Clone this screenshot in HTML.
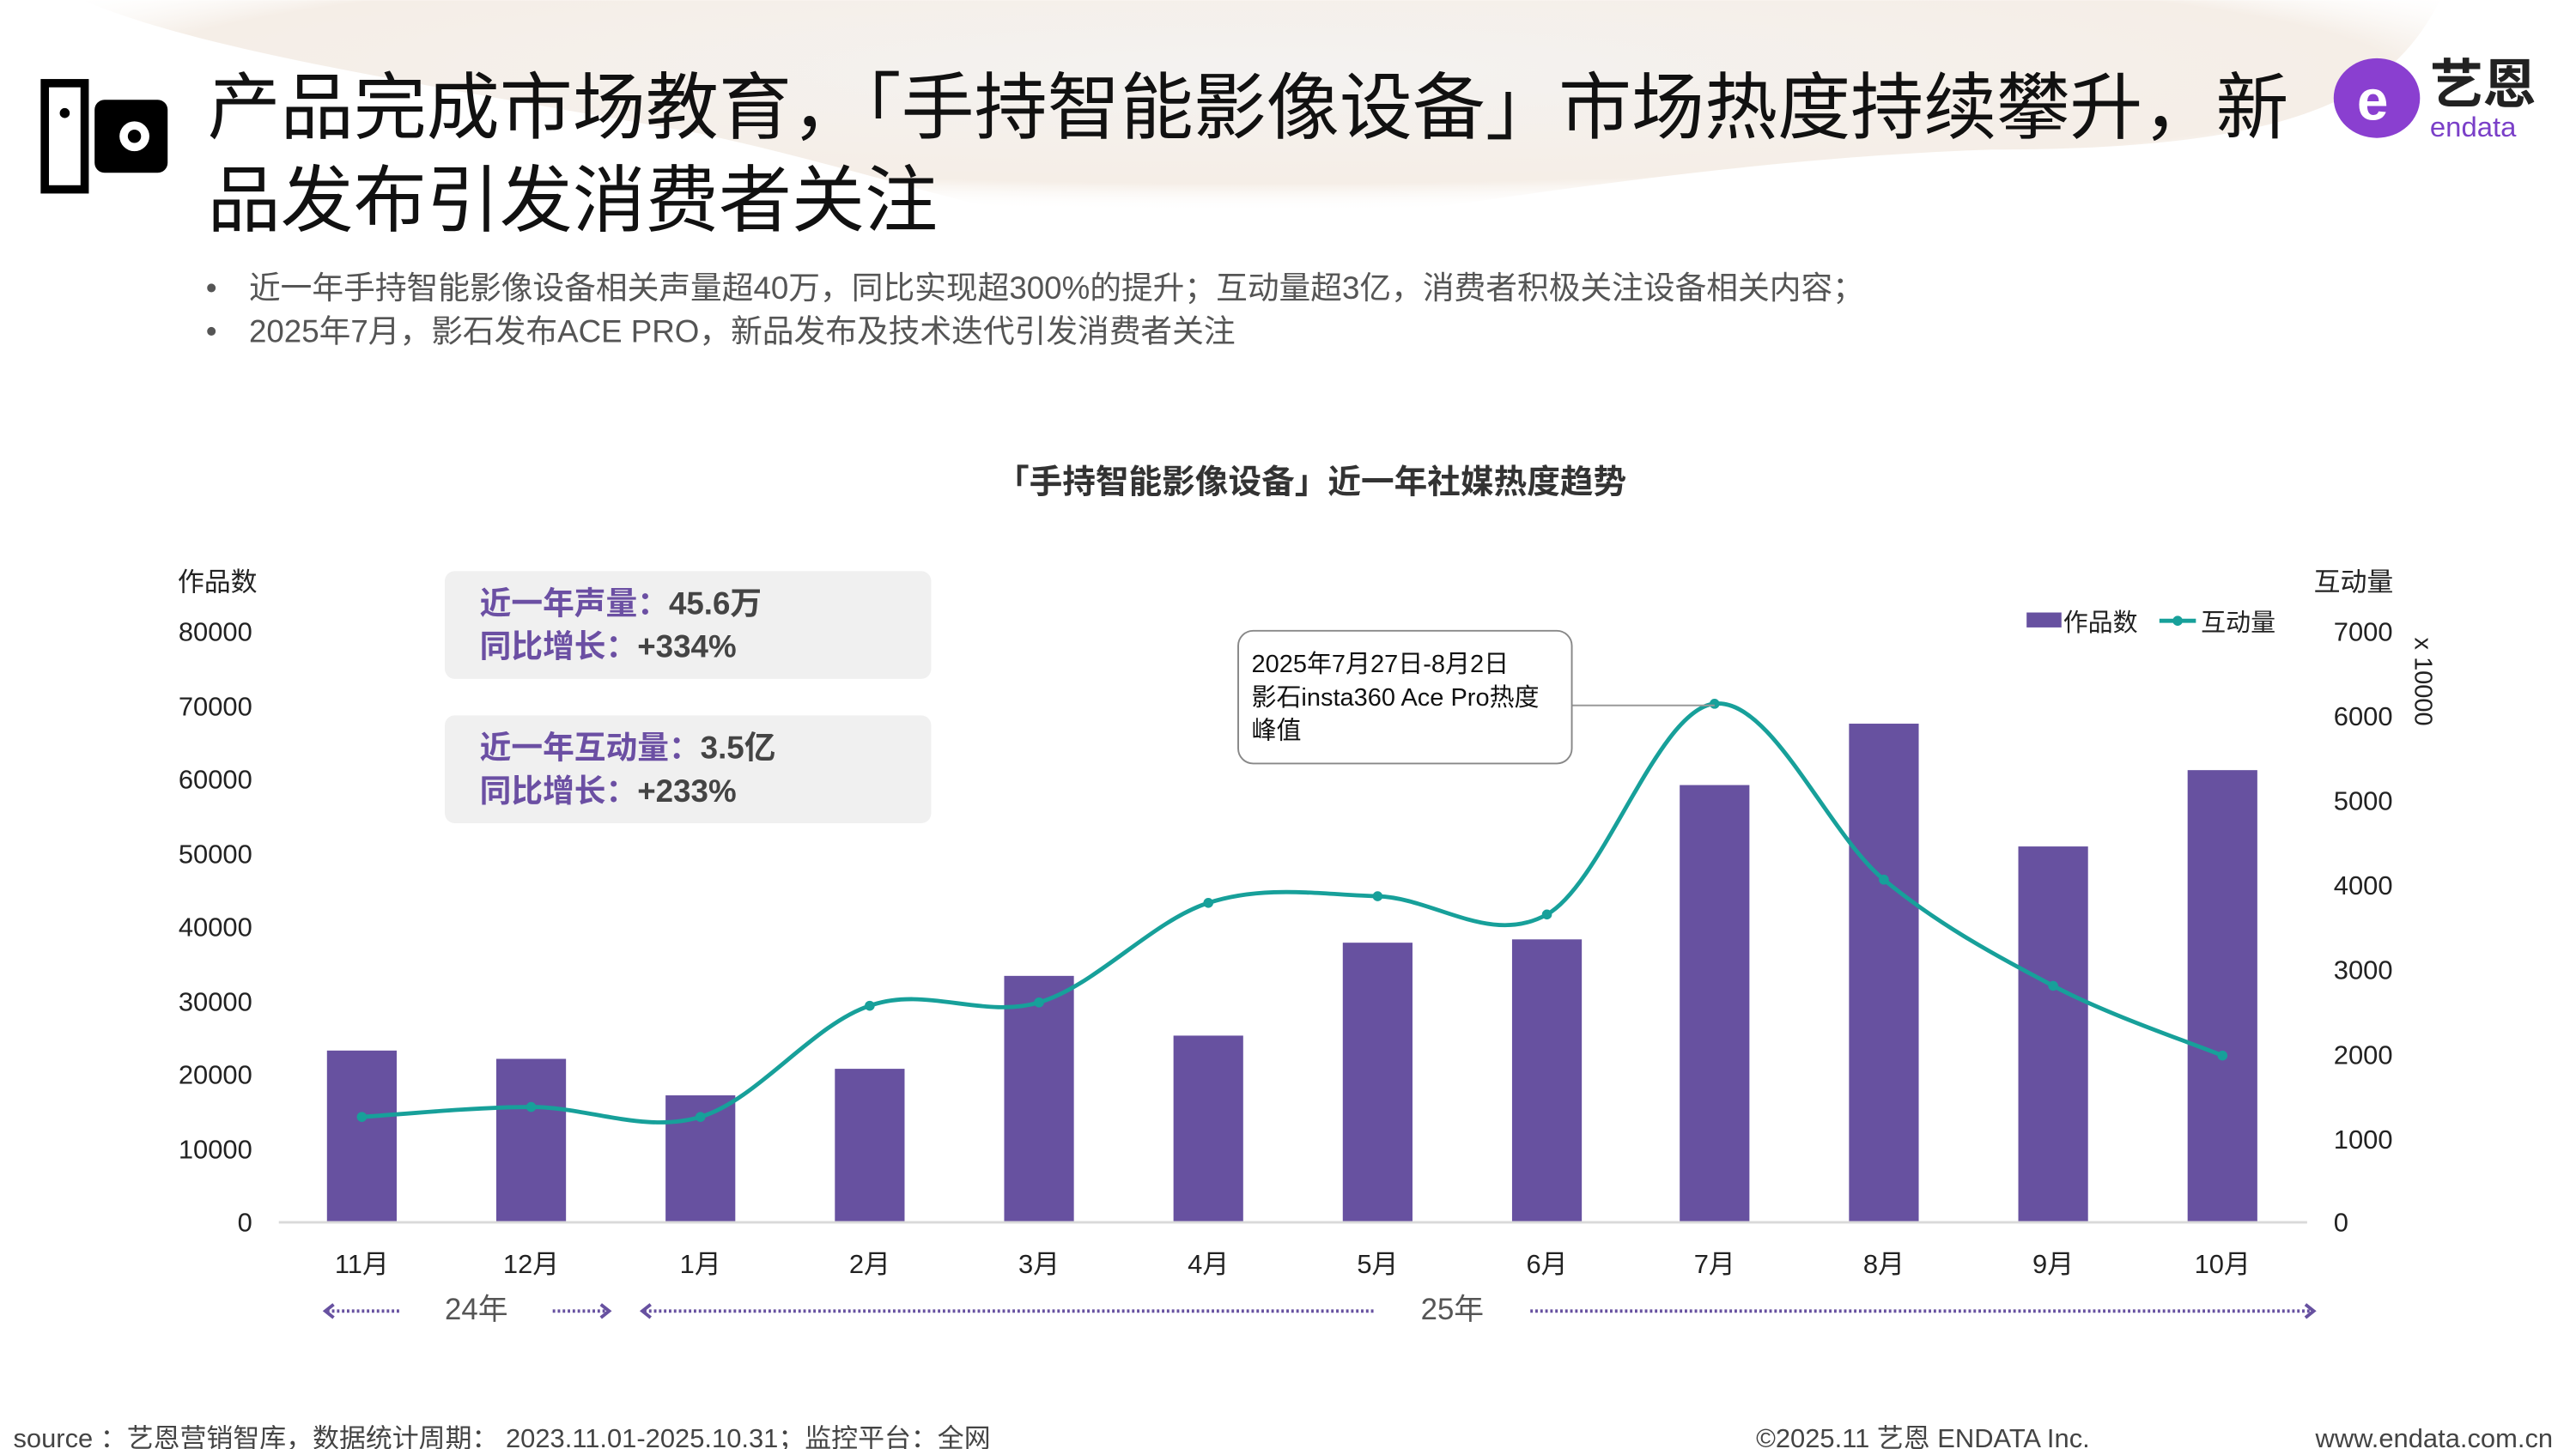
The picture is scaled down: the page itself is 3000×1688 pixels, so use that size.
<!DOCTYPE html>
<html><head><meta charset="utf-8"><style>
html,body{margin:0;padding:0;background:#fff;}
svg{display:block;}
text{font-family:"Liberation Sans","Noto Sans CJK SC",sans-serif;}
</style></head><body>
<svg width="3000" height="1688" viewBox="0 0 1552 873" xmlns="http://www.w3.org/2000/svg">
<defs>
<radialGradient id="g1" cx="0.5" cy="0.3" r="0.6"><stop offset="0" stop-color="#f3f1ef"/><stop offset="0.8" stop-color="#f4ece4"/><stop offset="1" stop-color="#fff" stop-opacity="0"/></radialGradient>
</defs>
<rect width="1552" height="873" fill="#fff"/>
<path d="M50,0 L1470,0 C1440,60 1380,90 1200,90 C1050,95 900,120 760,140 C640,150 560,110 420,80 C250,50 120,30 50,0 Z" fill="url(#g1)" opacity="0.9"/>
<!-- icon -->
<rect x="27" y="50" width="24" height="64" fill="none" stroke="#000" stroke-width="5"/>
<circle cx="39" cy="68" r="3" fill="#000"/>
<rect x="57" y="60" width="44" height="44" rx="6" fill="#000"/>
<circle cx="81" cy="82" r="9" fill="#fff"/><circle cx="81" cy="82" r="4" fill="#000"/>
<!-- title -->
<text x="125" y="80" font-size="44" fill="#111">产品完成市场教育，「手持智能影像设备」市场热度持续攀升，新</text>
<text x="125" y="136" font-size="44" fill="#111">品发布引发消费者关注</text>
<!-- logo -->
<ellipse cx="1432" cy="59" rx="26" ry="24" fill="#8a3fd0"/>
<text x="1420" y="72" font-size="34" font-weight="bold" fill="#fff">e</text>
<text x="1464" y="62" font-size="32" font-weight="bold" fill="#222">艺恩</text>
<text x="1464" y="82" font-size="17" fill="#7a3fc8">endata</text>
<!-- bullets -->
<g font-size="19" fill="#555">
<text x="124" y="180">•</text><text x="150" y="180">近一年手持智能影像设备相关声量超40万，同比实现超300%的提升；互动量超3亿，消费者积极关注设备相关内容；</text>
<text x="124" y="206">•</text><text x="150" y="206">2025年7月，影石发布ACE PRO，新品发布及技术迭代引发消费者关注</text>
</g>
<text x="790" y="297" font-size="20" font-weight="bold" fill="#333" text-anchor="middle">「手持智能影像设备」近一年社媒热度趋势</text>
<!-- axes labels -->
<g font-size="16" fill="#222">
<text x="107" y="356">作品数</text>
<text x="1394" y="356">互动量</text>
<g text-anchor="end">
<text x="152" y="386">80000</text><text x="152" y="431">70000</text><text x="152" y="475">60000</text><text x="152" y="520">50000</text><text x="152" y="564">40000</text><text x="152" y="609">30000</text><text x="152" y="653">20000</text><text x="152" y="698">10000</text><text x="152" y="742">0</text>
</g>
<text x="1406" y="386">7000</text><text x="1406" y="437">6000</text><text x="1406" y="488">5000</text><text x="1406" y="539">4000</text><text x="1406" y="590">3000</text><text x="1406" y="641">2000</text><text x="1406" y="692">1000</text><text x="1406" y="742">0</text>
<text transform="translate(1455,384) rotate(90)" font-size="15">x 10000</text>
</g>
<!-- text boxes -->
<rect x="268" y="344" width="293" height="65" rx="6" fill="#f0f0f0"/>
<rect x="268" y="431" width="293" height="65" rx="6" fill="#f0f0f0"/>
<g font-size="19" font-weight="bold">
<text x="289" y="370" fill="#6b4fa3">近一年声量：<tspan fill="#444">45.6万</tspan></text>
<text x="289" y="396" fill="#6b4fa3">同比增长：<tspan fill="#444">+334%</tspan></text>
<text x="289" y="457" fill="#6b4fa3">近一年互动量：<tspan fill="#444">3.5亿</tspan></text>
<text x="289" y="483" fill="#6b4fa3">同比增长：<tspan fill="#444">+233%</tspan></text>
</g>
<!-- bars -->
<g fill="#6751a0">
<rect x="197" y="633" width="42" height="103"/>
<rect x="299" y="638" width="42" height="98"/>
<rect x="401" y="660" width="42" height="76"/>
<rect x="503" y="644" width="42" height="92"/>
<rect x="605" y="588" width="42" height="148"/>
<rect x="707" y="624" width="42" height="112"/>
<rect x="809" y="568" width="42" height="168"/>
<rect x="911" y="566" width="42" height="170"/>
<rect x="1012" y="473" width="42" height="263"/>
<rect x="1114" y="436" width="42" height="300"/>
<rect x="1216" y="510" width="42" height="226"/>
<rect x="1318" y="464" width="42" height="272"/>
</g>
<line x1="168" y1="736.5" x2="1390" y2="736.5" stroke="#d9d9d9" stroke-width="1.5"/>
<!-- line -->
<path d="M218,673 C235,672 286,667 320,667 C354,667 388,683 422,673 C456,663 490,617 524,606 C558,594 592,614 626,604 C660,594 694,555 728,544 C762,533 796,539 830,540 C864,541 898,570 932,551 C966,532 999,427 1033,424 C1067,420 1101,502 1135,530 C1169,558 1203,576 1237,594 C1271,612 1322,629 1339,636" fill="none" stroke="#17a09a" stroke-width="2.5"/>
<g fill="#17a09a">
<circle cx="218" cy="673" r="3"/><circle cx="320" cy="667" r="3"/><circle cx="422" cy="673" r="3"/><circle cx="524" cy="606" r="3"/><circle cx="626" cy="604" r="3"/><circle cx="728" cy="544" r="3"/><circle cx="830" cy="540" r="3"/><circle cx="932" cy="551" r="3"/><circle cx="1033" cy="424" r="3"/><circle cx="1135" cy="530" r="3"/><circle cx="1237" cy="594" r="3"/><circle cx="1339" cy="636" r="3"/>
</g>
<!-- annotation -->
<line x1="947" y1="425" x2="1033" y2="425" stroke="#999" stroke-width="1"/>
<rect x="746" y="380" width="201" height="80" rx="9" fill="#fff" stroke="#888" stroke-width="1"/>
<g font-size="15" fill="#111">
<text x="754" y="405">2025年7月27日-8月2日</text>
<text x="754" y="425">影石insta360 Ace Pro热度</text>
<text x="754" y="445">峰值</text>
</g>
<!-- legend -->
<rect x="1221" y="369" width="21" height="9" fill="#6751a0"/>
<text x="1243" y="380" font-size="15" fill="#222">作品数</text>
<line x1="1301" y1="374" x2="1323" y2="374" stroke="#17a09a" stroke-width="2.5"/>
<circle cx="1312" cy="374" r="3" fill="#17a09a"/>
<text x="1326" y="380" font-size="15" fill="#222">互动量</text>
<!-- months -->
<g font-size="16" fill="#222" text-anchor="middle">
<text x="218" y="767">11月</text><text x="320" y="767">12月</text><text x="422" y="767">1月</text><text x="524" y="767">2月</text><text x="626" y="767">3月</text><text x="728" y="767">4月</text><text x="830" y="767">5月</text><text x="932" y="767">6月</text><text x="1033" y="767">7月</text><text x="1135" y="767">8月</text><text x="1237" y="767">9月</text><text x="1339" y="767">10月</text>
<text x="287" y="795" font-size="18" fill="#555">24年</text>
<text x="875" y="795" font-size="18" fill="#555">25年</text>
</g>
<g stroke="#6751a0" stroke-width="2" fill="none">
<line x1="197" y1="790" x2="242" y2="790" stroke-dasharray="1.5 1.5"/>
<path d="M201,786 L196,790 L201,794"/>
<line x1="333" y1="790" x2="366" y2="790" stroke-dasharray="1.5 1.5"/>
<path d="M362,786 L367,790 L362,794"/>
<line x1="388" y1="790" x2="828" y2="790" stroke-dasharray="1.5 1.5"/>
<path d="M392,786 L387,790 L392,794"/>
<line x1="922" y1="790" x2="1393" y2="790" stroke-dasharray="1.5 1.5"/>
<path d="M1389,786 L1394,790 L1389,794"/>
</g>
<!-- footer -->
<g font-size="16" fill="#444">
<text x="8" y="872">source ：艺恩营销智库，数据统计周期： 2023.11.01-2025.10.31；监控平台：全网</text>
<text x="1058" y="872">©2025.11  艺恩 ENDATA Inc.</text>
<text x="1395" y="872">www.endata.com.cn</text>
</g>
</svg>
</body></html>
